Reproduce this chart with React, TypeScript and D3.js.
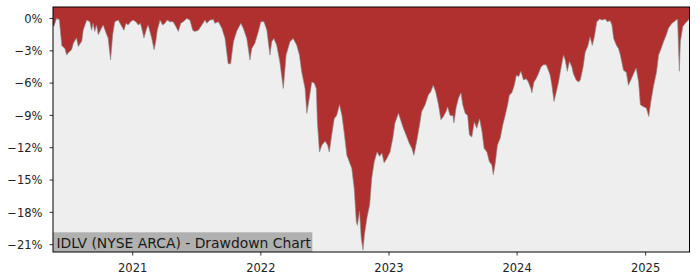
import React from "react";
import * as d3 from "d3";

const dates: string[] = [
  "2020-05-19","2020-05-22","2020-05-29","2020-06-06","2020-06-13","2020-06-22","2020-06-27","2020-07-01","2020-07-11","2020-07-16",
  "2020-07-25","2020-07-30","2020-08-09","2020-08-13","2020-08-23","2020-09-01","2020-09-06","2020-09-10","2020-09-15","2020-09-20",
  "2020-09-25","2020-10-04","2020-10-09","2020-10-19","2020-10-23","2020-10-30","2020-11-05","2020-11-11","2020-11-21","2020-12-01",
  "2020-12-07","2020-12-13","2020-12-19","2020-12-26","2021-01-02","2021-01-10","2021-01-17","2021-01-23","2021-01-29","2021-02-02",
  "2021-02-10","2021-02-14","2021-02-19","2021-02-24","2021-03-03","2021-03-08","2021-03-12","2021-03-20","2021-03-27","2021-04-03",
  "2021-04-09","2021-04-17","2021-04-26","2021-05-04","2021-05-11","2021-05-18","2021-05-25","2021-06-04","2021-06-13","2021-06-21",
  "2021-06-27","2021-07-07","2021-07-17","2021-07-26","2021-07-31","2021-08-09","2021-08-19","2021-08-23","2021-09-02","2021-09-12",
  "2021-09-21","2021-09-30","2021-10-07","2021-10-15","2021-10-24","2021-11-05","2021-11-12","2021-11-22","2021-12-01","2021-12-06",
  "2021-12-15","2021-12-25","2022-01-01","2022-01-10","2022-01-18","2022-01-27","2022-02-01","2022-02-07","2022-02-15","2022-02-24",
  "2022-03-06","2022-03-14","2022-03-25","2022-04-03","2022-04-13","2022-04-21","2022-04-27","2022-05-07","2022-05-12","2022-05-19",
  "2022-05-26","2022-06-02","2022-06-08","2022-06-11","2022-06-17","2022-06-24","2022-07-03","2022-07-10","2022-07-15","2022-07-22",
  "2022-07-29","2022-08-05","2022-08-13","2022-08-20","2022-08-26","2022-09-03","2022-09-10","2022-09-17","2022-09-24","2022-09-30",
  "2022-10-03","2022-10-09","2022-10-14","2022-10-19","2022-10-23","2022-10-30","2022-11-07","2022-11-13","2022-11-20","2022-11-28",
  "2022-12-05","2022-12-12","2022-12-18","2022-12-26","2023-01-04","2023-01-12","2023-01-18","2023-01-28","2023-02-03","2023-02-11",
  "2023-02-21","2023-02-28","2023-03-07","2023-03-13","2023-03-21","2023-03-29","2023-04-04","2023-04-14","2023-04-23","2023-04-30",
  "2023-05-07","2023-05-14","2023-05-22","2023-05-29","2023-06-05","2023-06-13","2023-06-17","2023-06-24","2023-07-02","2023-07-05",
  "2023-07-11","2023-07-18","2023-07-25","2023-07-30","2023-08-06","2023-08-13","2023-08-18","2023-08-25","2023-09-01","2023-09-08",
  "2023-09-16","2023-09-23","2023-09-29","2023-10-07","2023-10-14","2023-10-21","2023-10-25","2023-10-30","2023-11-06","2023-11-14",
  "2023-11-21","2023-11-28","2023-12-05","2023-12-10","2023-12-17","2023-12-24","2023-12-30","2024-01-05","2024-01-12","2024-01-19",
  "2024-01-27","2024-02-02","2024-02-09","2024-02-12","2024-02-18","2024-02-24","2024-03-02","2024-03-09","2024-03-16","2024-03-24",
  "2024-03-30","2024-04-04","2024-04-09","2024-04-15","2024-04-21","2024-04-28","2024-05-05","2024-05-12","2024-05-17","2024-05-23",
  "2024-05-29","2024-06-05","2024-06-09","2024-06-17","2024-06-24","2024-06-29","2024-07-07","2024-07-13","2024-07-20","2024-07-27",
  "2024-08-02","2024-08-08","2024-08-15","2024-08-23","2024-08-30","2024-09-08","2024-09-14","2024-09-22","2024-09-27","2024-10-02",
  "2024-10-10","2024-10-16","2024-10-21","2024-10-30","2024-11-07","2024-11-13","2024-11-20","2024-11-28","2024-12-05","2024-12-12",
  "2024-12-17","2024-12-26","2025-01-03","2025-01-10","2025-01-16","2025-01-24","2025-02-01","2025-02-07","2025-02-14","2025-02-21",
  "2025-03-01","2025-03-07","2025-03-17","2025-03-23","2025-04-02","2025-04-07","2025-04-10","2025-04-17","2025-04-24","2025-05-01",
  "2025-05-06"
];

const drawdown: number[] = [
  -0.7,-0.7,0,-0.1,-2.5,-2.8,-3.4,-3.2,-2.9,-2.3,
  -1.8,-2.6,-2.1,-1.1,-0.15,-0.3,-1.1,-0.45,-1.2,-0.6,
  -1.5,-0.9,-0.6,-1.5,-1.8,-3.85,-1.5,-0.3,-0.15,-0.75,
  -1.1,-0.45,-0.6,-0.3,-0.15,-0.3,-0.6,-0.45,-1.2,-1.8,
  -0.9,-0.6,-1.2,-1.8,-2.9,-2.1,-1.1,-0.15,-0.6,-0.45,
  -0.15,-0.3,-0.3,-0.75,-1.2,-0.45,-0.3,0,-0.15,-1.1,
  -1.2,-1.1,-0.6,-0.15,-0.45,-0.15,-0.1,-0.45,-0.3,-0.9,
  -1.85,-4.2,-4.2,-2.15,-1.2,-0.45,-0.9,-1.85,-3.85,-2.8,
  -2.3,-1.2,-0.3,-0.3,-1.07,-3.4,-2.15,-1.85,-2.46,-4.0,
  -6.5,-3.4,-2.15,-1.85,-2.46,-3.4,-4.9,-6.5,-8.8,-7.4,
  -5.9,-6.0,-6.5,-9.6,-12.4,-11.75,-11.4,-11.75,-12.4,-10.8,
  -9.3,-9.0,-8.0,-9.0,-10.5,-12.7,-13.3,-13.9,-15.8,-18.9,
  -19.2,-17.9,-20.4,-21.5,-20.1,-18.55,-17.3,-14.8,-13.3,-12.4,
  -12.8,-12.5,-13.4,-13.0,-12.4,-11.1,-9.7,-8.8,-9.4,-10.2,
  -11.0,-11.6,-12.05,-12.7,-11.4,-9.9,-8.65,-8.0,-7.1,-6.8,
  -6.2,-6.8,-8.0,-9.4,-9.1,-8.6,-8.2,-9.0,-9.0,-9.7,
  -8.3,-7.4,-6.9,-8.0,-8.8,-9.0,-10.8,-11.0,-9.6,-10.2,
  -9.3,-10.5,-12.05,-12.4,-13.3,-13.6,-14.5,-13.6,-11.75,-11.1,
  -9.9,-9.0,-8.0,-7.1,-6.9,-6.2,-5.25,-5.4,-4.9,-5.7,
  -5.6,-5.9,-6.5,-6.9,-5.9,-5.6,-5.1,-4.5,-4.3,-4.3,
  -4.8,-5.25,-6.2,-7.7,-6.9,-5.9,-4.6,-3.4,-3.85,-4.9,
  -4.0,-4.5,-5.1,-5.7,-5.9,-5.7,-4.5,-3.1,-2.6,-1.7,
  -2.5,-1.7,-0.3,-0.05,-0.15,-0.05,-0.3,-0.2,-0.6,-1.85,
  -2.5,-2.8,-3.4,-4.8,-5.0,-6.2,-5.7,-5.1,-4.6,-5.9,
  -8.0,-8.2,-8.3,-9.1,-7.7,-6.2,-5.0,-3.4,-2.8,-2.15,
  -1.5,-0.9,-0.45,-0.3,-0.05,-4.9,-2.15,-0.75,-0.45,-0.2,
  0
];

const yTicks: number[] = [0, -3, -6, -9, -12, -15, -18, -21];
const xTickYears: number[] = [2021, 2022, 2023, 2024, 2025];
const title = "IDLV (NYSE ARCA) - Drawdown Chart";

const W = 700;
const H = 280;
const M = { left: 53, right: 689.5, top: 7, bottom: 252 };

export default function App() {
  const parse = d3.timeParse("%Y-%m-%d");
  const data = dates.map((d, i) => ({ date: parse(d) as Date, value: drawdown[i] }));

  const x = d3
    .scaleTime()
    .domain([data[0].date, data[data.length - 1].date])
    .range([M.left, M.right]);
  const y = d3.scaleLinear().domain([-21.68, 1.068]).range([M.bottom, M.top]);

  const area = d3
    .area<{ date: Date; value: number }>()
    .x((d) => x(d.date))
    .y0(M.top)
    .y1((d) => y(d.value));
  const line = d3
    .line<{ date: Date; value: number }>()
    .x((d) => x(d.date))
    .y((d) => y(d.value));

  const font = "DejaVu Sans, sans-serif";
  const minus = (v: number) => (v < 0 ? "\u2212" + Math.abs(v) : String(v)) + "%";

  return (
    <svg width={W} height={H} style={{ display: "block", position: "absolute", left: 0, top: 0 }}>
      <rect x={0} y={0} width={W} height={H} fill="#ffffff" />
      <rect x={M.left} y={M.top} width={M.right - M.left} height={M.bottom - M.top} fill="#eeeeee" />
      <path d={area(data) || ""} fill="#b03030" />
      <path d={line(data) || ""} fill="none" stroke="#8a8a8a" strokeWidth={0.8} strokeOpacity={0.8} />

      <rect x={M.left} y={232.3} width={312.3 - M.left} height={M.bottom - 232.3} fill="#b0b0b0" />
      <text x={56.5} y={247.5} fontFamily={font} fontSize={13.9} fill="#1a1a1a">
        {title}
      </text>

      <rect
        x={M.left}
        y={M.top}
        width={M.right - M.left}
        height={M.bottom - M.top}
        fill="none"
        stroke="#000"
        strokeWidth={1}
      />

      {yTicks.map((t) => (
        <g key={t}>
          <line x1={M.left - 3.5} x2={M.left} y1={y(t)} y2={y(t)} stroke="#000" strokeWidth={0.8} />
          <text
            x={42.5}
            y={y(t)}
            dy="0.36em"
            textAnchor="end"
            fontFamily={font}
            fontSize={11.5}
            fill="#222"
          >
            {minus(t)}
          </text>
        </g>
      ))}

      {xTickYears.map((yr) => {
        const px = x(new Date(yr, 0, 1));
        return (
          <g key={yr}>
            <line x1={px} x2={px} y1={M.bottom} y2={M.bottom + 3.5} stroke="#000" strokeWidth={0.8} />
            <text x={px} y={271.7} textAnchor="middle" fontFamily={font} fontSize={11.5} fill="#222">
              {yr}
            </text>
          </g>
        );
      })}
    </svg>
  );
}
